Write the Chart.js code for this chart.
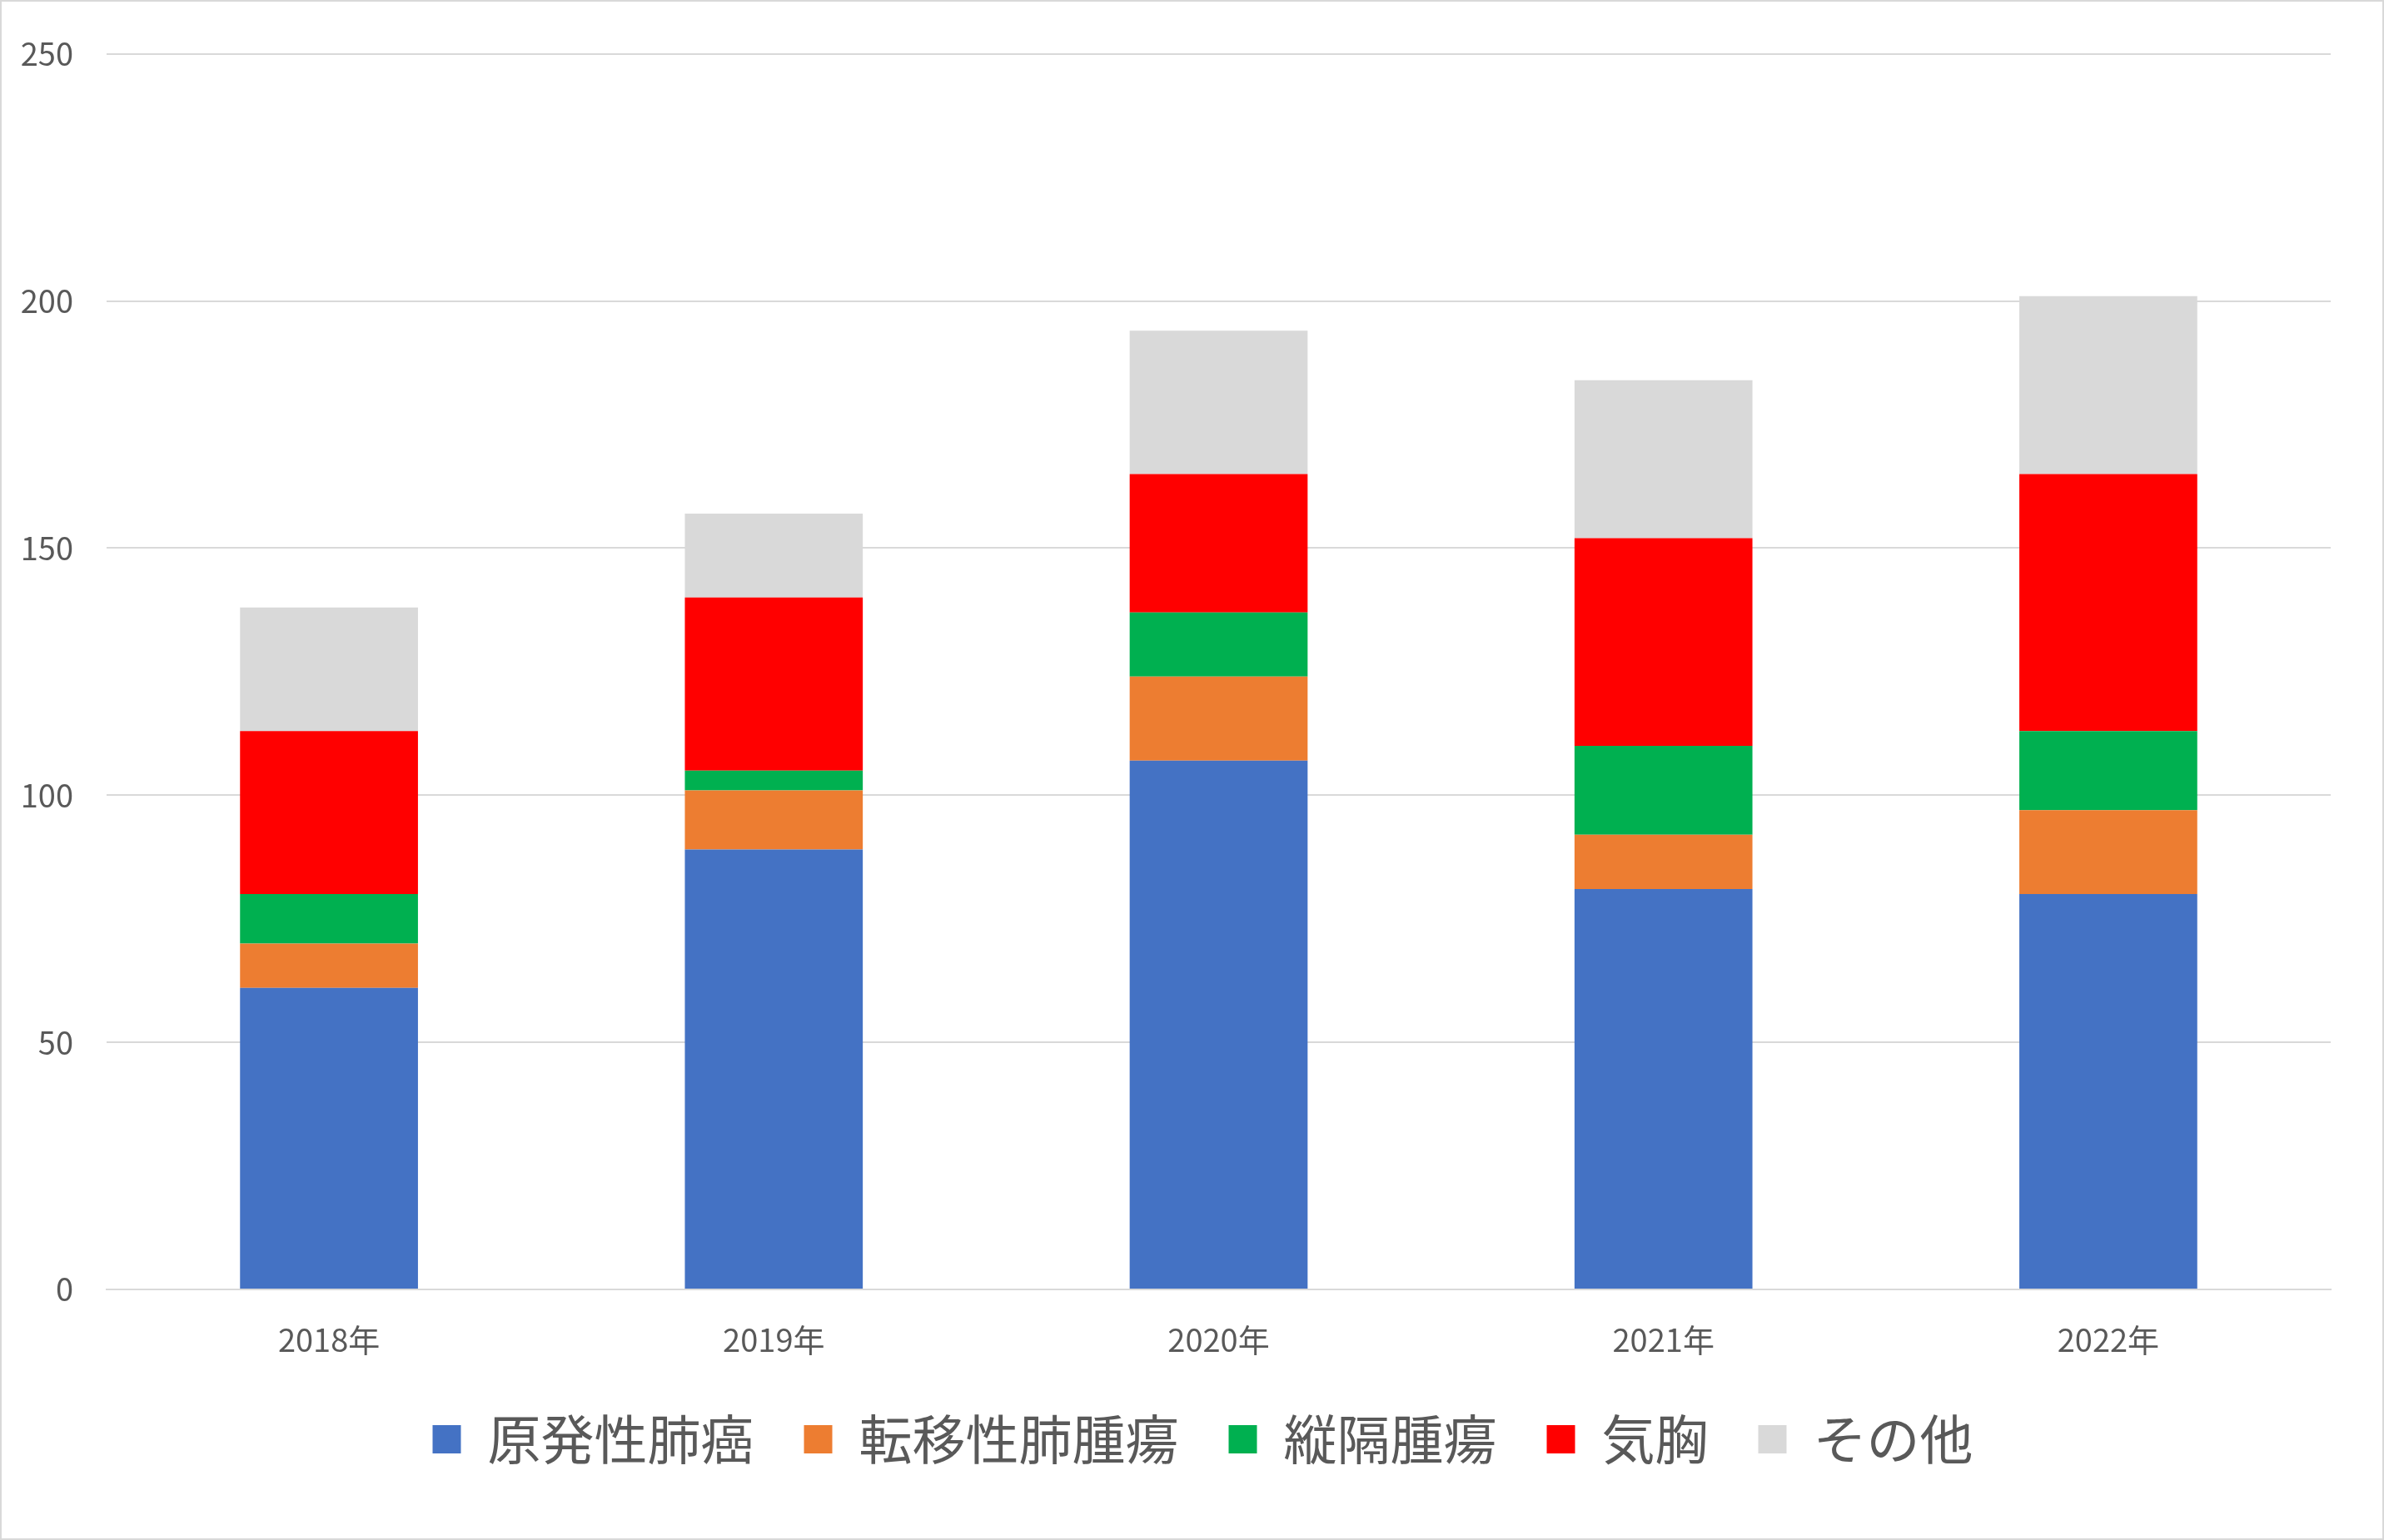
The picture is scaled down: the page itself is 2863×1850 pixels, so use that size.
<!DOCTYPE html>
<html lang="ja">
<head>
<meta charset="utf-8">
<title>手術件数</title>
<script src="https://cdn.jsdelivr.net/npm/chart.js@4/dist/chart.umd.min.js"></script>
<style>
    html, body { margin: 0; padding: 0; background: #fff; }
    .chart-box {
        width: 2863px;
        height: 1850px;
        box-sizing: border-box;
        border: 2px solid #d9d9d9;
        background: #fff;
    }
</style>
</head>
<body>
<div class="chart-box">
    <canvas id="summaryChart"></canvas>
</div>
<script>
// Data
const years = ['2018年', '2019年', '2020年', '2021年', '2022年'];
const primaryLung = [61, 89, 107, 81, 80];
const metastaticLung = [9, 12, 17, 11, 17];
const mediastinal = [10, 4, 13, 18, 16];
const pneumothorax = [33, 35, 28, 42, 52];
const others = [25, 17, 29, 32, 36];
const yTicks = [0, 50, 100, 150, 200, 250];

const fontFamily = "'Noto Sans CJK JP', 'Noto Sans', sans-serif";
const textColor = '#595959';
const gridColor = '#d9d9d9';

function makeSeries(label, data, color) {
    return {
        label: label,
        data: data,
        backgroundColor: color,
        borderWidth: 0,
        categoryPercentage: 1,
        barPercentage: 0.4
    };
}

// Legend in the original is centred under the plot area, not the whole canvas
const legendShift = {
    id: 'legendShift',
    afterLayout(chart) {
        if (chart.legend) {
            chart.legend.left += 88;
        }
    }
};

const ctx = document.getElementById('summaryChart').getContext('2d');
new Chart(ctx, {
    type: 'bar',
    data: {
        labels: years,
        datasets: [
            makeSeries('原発性肺癌', primaryLung, '#4472C4'),
            makeSeries('転移性肺腫瘍', metastaticLung, '#ED7D31'),
            makeSeries('縦隔腫瘍', mediastinal, '#00B050'),
            makeSeries('気胸', pneumothorax, '#FF0000'),
            makeSeries('その他', others, '#D9D9D9')
        ]
    },
    plugins: [legendShift],
    options: {
        responsive: true,
        maintainAspectRatio: false,
        animation: false,
        layout: {
            padding: { left: 0, right: 62, top: 42, bottom: 77 }
        },
        plugins: {
            legend: {
                position: 'bottom',
                labels: {
                    color: textColor,
                    font: { family: fontFamily, size: 64 },
                    boxWidth: 34,
                    boxHeight: 34,
                    padding: 60
                }
            },
            tooltip: { enabled: false }
        },
        scales: {
            x: {
                stacked: true,
                afterFit: (axis) => {
                    axis.height = 88;
                },
                grid: { display: false },
                border: { color: gridColor, width: 2 },
                ticks: {
                    color: textColor,
                    font: { family: fontFamily, size: 38 },
                    padding: 30
                }
            },
            y: {
                stacked: true,
                min: 0,
                max: 250,
                afterBuildTicks: (axis) => {
                    axis.ticks = yTicks.map(v => ({ value: v }));
                },
                afterFit: (axis) => {
                    axis.width = 126;
                },
                grid: { color: gridColor, lineWidth: 2, drawTicks: false },
                border: { display: false },
                ticks: {
                    color: textColor,
                    font: { family: fontFamily, size: 38 },
                    padding: 40
                }
            }
        }
    }
});
</script>
</body>
</html>
